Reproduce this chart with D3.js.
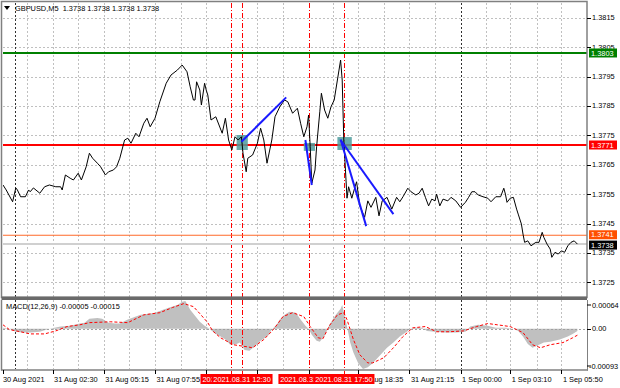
<!DOCTYPE html>
<html><head><meta charset="utf-8">
<script src="https://cdn.jsdelivr.net/npm/d3@7"></script>
<style>
html,body{margin:0;padding:0;background:#fff;}
svg{display:block;font-family:"Liberation Sans",Arial,sans-serif;}
</style></head><body>
<svg id="c" width="620" height="388"></svg>
<script>
// ---------- DATA ----------
const priceBars = [0,2,6,8,9,11,14,16,17,19,23,26,29,33,36,37,39,42,44,47,49,52,54,56,59,61,64,66,69,71,73,76,78,80,83,85,88,90,92,95,98,102,105,109,112,115,117,119,120,121,123,124,126,127,128,130,133,135,137,139,141,143,145,147,149,150,152,153,156,159,161,163,165,168,170,173,176,178,181,184,186,188,190,191,192,193,195,196,198,199,201,203,205,207,209,210,211,212,213,215,216,218,220,221,223,226,228,230,233,235,237,240,243,246,248,250,253,255,258,260,262,264,266,268,270,271,273,275,278,280,283,286,289,291,293,295,297,300,303,305,308,311,313,314,315,317,319,321,322,324,325,326,328,330,333,335,337,338,340,342,343,345,347,349,351,353,355,357,359];
const closes = [1.37581,1.37564,1.37524,1.37571,1.37564,1.37541,1.37541,1.37564,1.37558,1.37571,1.37553,1.37575,1.37581,1.37575,1.37575,1.37564,1.37615,1.37604,1.37598,1.37621,1.37598,1.37643,1.37689,1.37672,1.37655,1.37643,1.37615,1.37626,1.37632,1.37643,1.37672,1.37734,1.37740,1.37723,1.37757,1.37745,1.37791,1.37808,1.37779,1.37808,1.37864,1.37927,1.37955,1.37972,1.37989,1.37966,1.37915,1.37870,1.37870,1.37932,1.37904,1.37853,1.37927,1.37904,1.37887,1.37802,1.37813,1.37785,1.37757,1.37808,1.37734,1.37700,1.37745,1.37734,1.37745,1.37689,1.37626,1.37672,1.37683,1.37723,1.37774,1.37734,1.37655,1.37734,1.37813,1.37847,1.37870,1.37864,1.37825,1.37842,1.37791,1.37745,1.37779,1.37819,1.37711,1.37587,1.37632,1.37711,1.37830,1.37893,1.37836,1.37808,1.37847,1.37870,1.37938,1.37972,1.38006,1.37938,1.37734,1.37536,1.37575,1.37536,1.37575,1.37592,1.37510,1.37471,1.37527,1.37505,1.37539,1.37476,1.37527,1.37539,1.37499,1.37539,1.37524,1.37541,1.37570,1.37558,1.37547,1.37553,1.37570,1.37539,1.37510,1.37533,1.37527,1.37550,1.37510,1.37533,1.37527,1.37539,1.37527,1.37505,1.37522,1.37539,1.37558,1.37558,1.37547,1.37541,1.37536,1.37524,1.37541,1.37541,1.37570,1.37550,1.37522,1.37536,1.37539,1.37499,1.37482,1.37448,1.37414,1.37386,1.37391,1.37374,1.37386,1.37386,1.37420,1.37403,1.37380,1.37363,1.37335,1.37352,1.37346,1.37357,1.37352,1.37374,1.37386,1.37391,1.37380];

const histBars = [0,4,8,12,17,23,29,36,42,48,51,54,59,62,66,70,73,78,83,86,92,95,100,104,109,112,114,117,120,123,126,129,133,136,139,142,146,148,151,154,158,161,163,166,168,171,173,176,179,183,186,189,191,193,196,198,201,204,208,211,212,214,215,217,219,222,225,228,231,236,240,244,248,253,254,258,262,265,270,276,283,289,292,297,303,308,314,319,322,325,328,331,334,338,342,348,353,356,359];
const histValues = [0.00002,0,-0.00007,-0.00009,-0.00009,-0.00007,0,0.00005,0.00007,0.00012,0.00014,0.00023,0.00025,0.00023,0.00014,0.00012,0.00012,0.00021,0.00028,0.00032,0.00035,0.00037,0.00044,0.00049,0.00055,0.00062,0.00064,0.00044,0.0003,0.00016,0.00007,0,-0.00012,-0.00018,-0.00025,-0.00037,-0.00035,-0.00032,-0.00049,-0.00051,-0.00039,-0.00028,-0.00023,-0.00014,-0.00002,0.00009,0.00021,0.00032,0.00039,0.00037,0.00021,0.00007,0,-0.00014,-0.00028,-0.0003,-0.00016,0.00009,0.00032,0.00046,0.00055,0.00023,0.00005,-0.00032,-0.00055,-0.0008,-0.00093,-0.00089,-0.0008,-0.0006,-0.00044,-0.00032,-0.00018,-0.00005,0,0.00002,0.00002,-0.00005,-0.00007,-0.00009,-0.00009,-0.00007,0.00005,0.00009,0.00007,0.00002,0.00002,0,-0.00005,-0.00018,-0.00035,-0.00044,-0.00039,-0.00032,-0.0003,-0.00025,-0.00018,-0.00012,-0.00005];

const signalBars = [0,4,11,17,26,33,40,48,54,67,78,88,98,106,113,119,123,128,131,136,144,153,156,163,169,175,181,188,192,197,200,204,209,213,215,219,223,228,231,238,244,250,256,264,271,279,288,296,303,309,317,321,325,331,336,342,350,356,359];
const signalValues = [0.00009,-0.00002,-0.00007,-0.00012,-0.00012,-0.00005,0.00005,0.00009,0.00014,0.00016,0.00014,0.00032,0.00037,0.00049,0.00058,0.00051,0.00035,0.00014,-0.00005,-0.00021,-0.00037,-0.00042,-0.00044,-0.00025,-0.00002,0.00028,0.00037,0.00028,0.00005,-0.00021,-0.00023,0.00007,0.00032,0.00037,0.00021,-0.00025,-0.0006,-0.00079,-0.00079,-0.00067,-0.00044,-0.00018,0.00002,0.00005,-0.00007,-0.00007,-0.00005,0.00005,0.00012,0.00009,0.00005,-0.00002,-0.00009,-0.00037,-0.00044,-0.00037,-0.00032,-0.00021,-0.00015];

const priceTicks = [1.3815,1.3805,1.3795,1.3785,1.3775,1.3765,1.3755,1.3745,1.3735,1.3725];
const macdTicks = [0.00064, 0, -0.00093];
const macdTickLabels = ["0.00064","0.00","-0.00093"];
const timeTickBars = [0,31,63,95,127,159,191,222,254,286,317,349];
// labels at 127, 159 and 191 are fully covered by the red line labels in the reference
const timeTickLabels = ["30 Aug 2021","31 Aug 02:30","31 Aug 05:15","31 Aug 07:55","","","","31 Aug 18:35","31 Aug 21:15","1 Sep 00:00","1 Sep 03:10","1 Sep 05:50"];
// grid columns at 143 and 191 sit under the red lines and are not drawn
const gridBars = [15,31,47,63,79,95,111,127,159,175,206,222,238,254,270,302,317,334,349];
const daySeparatorBars = [7.5, 286];
const vLineBars = [142.5, 149.4, 191.2, 213.1];
const vLineLabels = ["2021.08.31 11:55","2021.08.31 12:30","2021.08.31 16:00","2021.08.31 17:50"];
const levelValues = [1.3803, 1.37717, 1.3741];
const levelLabels = ["1.3803","1.3771","1.3741"];
const bidValue = 1.3738;
const bidLabel = "1.3738";
const trendStartBars = [149,189,211,211];
const trendStartPrices = [1.37728,1.37734,1.37736,1.37734];
const trendEndBars = [177,193,227,244];
const trendEndPrices = [1.37879,1.37581,1.37441,1.37482];
const markerStartBars = [146,188,209];
const markerEndBars = [153,195,218];
const markerLowPrices = [1.37700,1.37697,1.37700];
const markerHighPrices = [1.37751,1.37724,1.37744];
const titleText = "GBPUSD,M5  1.3738 1.3738 1.3738 1.3738";
const macdTitle = "MACD(12,26,9) -0.00005 -0.00015";

// ---------- STYLE / LAYOUT ----------
const L = 3, R = 587, T = 3, MB = 297, MT = 301, MBot = 369;
const FS = 7.4;
const levelColors = ["#008000","#ff0000","#ff6a2a"];
const levelBoxColors = ["#008000","#ff0000","#ff5000"];
const levelWidths = [2,2,1.2];

const svg = d3.select("#c");
const x = d3.scaleLinear().domain([0,365]).range([L,R]);
const y = d3.scaleLinear().domain([1.3720,1.3820]).range([MB,T]);
const ym = d3.scaleLinear().domain([-0.00093,0.00064]).range([MBot,MT]);
const px = d => Math.round(x(d)) + 0.5;

const defs = svg.append("defs");
defs.append("clipPath").attr("id","cm").append("rect").attr("x",L).attr("y",T).attr("width",R-L).attr("height",MB-T);
defs.append("clipPath").attr("id","cd").append("rect").attr("x",L).attr("y",MT-1).attr("width",R-L).attr("height",MBot-MT+1);

svg.append("rect").attr("width",620).attr("height",388).attr("fill","#fff");

function vgrid(g, y1, y2){
  g.selectAll(".vg").data(gridBars).enter().append("line")
    .attr("x1",px).attr("x2",px).attr("y1",y1).attr("y2",y2)
    .attr("stroke","#c0c0c0").attr("stroke-dasharray","2,2");
  g.selectAll(".ds").data(daySeparatorBars).enter().append("line")
    .attr("x1",px).attr("x2",px).attr("y1",y1).attr("y2",y2)
    .attr("stroke","#303030").attr("stroke-dasharray","2,2");
}
function vlines(g, y1, y2){
  g.selectAll(".vl").data(vLineBars).enter().append("line")
    .attr("x1",px).attr("x2",px).attr("y1",y1).attr("y2",y2)
    .attr("stroke","#ff0000").attr("stroke-width",1).attr("stroke-dasharray","5,2,1,2");
}

const gm = svg.append("g").attr("clip-path","url(#cm)");
gm.selectAll(".hg").data(priceTicks).enter().append("line")
  .attr("x1",L).attr("x2",R).attr("y1",d=>Math.round(y(d))+0.5).attr("y2",d=>Math.round(y(d))+0.5)
  .attr("stroke","#c0c0c0").attr("stroke-dasharray","2,2").attr("stroke-width",1);
vgrid(gm, T, MB);
vlines(gm, T, MB);

gm.append("line").attr("x1",L).attr("x2",R).attr("y1",y(bidValue)).attr("y2",y(bidValue))
  .attr("stroke","#d0d0d0").attr("stroke-width",2);
gm.selectAll(".lv").data(levelValues).enter().append("line")
  .attr("x1",L).attr("x2",R).attr("y1",d=>y(d)).attr("y2",d=>y(d))
  .attr("stroke",(d,i)=>levelColors[i]).attr("stroke-width",(d,i)=>levelWidths[i]);

gm.selectAll(".mk").data(markerStartBars).enter().append("rect")
  .attr("x",(d,i)=>x(d)).attr("width",(d,i)=>x(markerEndBars[i])-x(d))
  .attr("y",(d,i)=>y(markerHighPrices[i])).attr("height",(d,i)=>y(markerLowPrices[i])-y(markerHighPrices[i]))
  .attr("fill","#4f9c9c").attr("opacity",0.85);

gm.append("path").datum(priceBars.map((b,i)=>[b,closes[i]]))
  .attr("d", d3.line().x(d=>x(d[0])).y(d=>y(d[1])))
  .attr("fill","none").attr("stroke","#000").attr("stroke-width",1);

gm.selectAll(".tl").data(trendStartBars).enter().append("line")
  .attr("x1",d=>x(d)).attr("y1",(d,i)=>y(trendStartPrices[i]))
  .attr("x2",(d,i)=>x(trendEndBars[i])).attr("y2",(d,i)=>y(trendEndPrices[i]))
  .attr("stroke","#1a1aff").attr("stroke-width",2);

const gd = svg.append("g").attr("clip-path","url(#cd)");
vgrid(gd, MT-1, MBot);
gd.append("path").datum(histBars.map((b,i)=>[b,histValues[i]]))
  .attr("d", d3.area().x(d=>x(d[0])).y0(ym(0)).y1(d=>ym(d[1])))
  .attr("fill","#c0c0c0");
gd.append("line").attr("x1",L).attr("x2",R).attr("y1",Math.round(ym(0))+0.5).attr("y2",Math.round(ym(0))+0.5)
  .attr("stroke","#a0a0a0").attr("stroke-dasharray","2,2");
vlines(gd, MT-1, MBot);
gd.append("path").datum(signalBars.map((b,i)=>[b,signalValues[i]]))
  .attr("d", d3.line().x(d=>x(d[0])).y(d=>ym(d[1])))
  .attr("fill","none").attr("stroke","#ff0000").attr("stroke-width",1).attr("stroke-dasharray","3,2");

svg.append("rect").attr("x",1.5).attr("y",1.5).attr("width",R-1.5).attr("height",MB-1).attr("fill","none").attr("stroke","#808080").attr("stroke-width",1.5);
svg.append("rect").attr("x",1.5).attr("y",296.5).attr("width",R-1.5).attr("height",3.5).attr("fill","#6a6a6a");
svg.append("line").attr("x1",1.5).attr("x2",1.5).attr("y1",300).attr("y2",370.5).attr("stroke","#808080").attr("stroke-width",1.5);
svg.append("line").attr("x1",R+0.5).attr("x2",R+0.5).attr("y1",300).attr("y2",370.5).attr("stroke","#808080").attr("stroke-width",1);
svg.append("line").attr("x1",1).attr("x2",R+1).attr("y1",370).attr("y2",370).attr("stroke","#808080").attr("stroke-width",1.5);
svg.selectAll(".vls").data(vLineBars).enter().append("line")
  .attr("x1",px).attr("x2",px).attr("y1",370.8).attr("y2",374).attr("stroke","#ff0000");

svg.append("path").attr("d","M4,6 L10,6 L7,10 Z").attr("fill","#000");
svg.append("text").attr("x",15).attr("y",11).attr("font-size",FS).attr("fill","#000").attr("xml:space","preserve").text(titleText);
svg.append("text").attr("x",6).attr("y",308.5).attr("font-size",FS).attr("fill","#000").text(macdTitle);

const pa = svg.append("g");
pa.selectAll(".pt").data(priceTicks).enter().append("line")
  .attr("x1",R).attr("x2",R+4).attr("y1",d=>Math.round(y(d))+0.5).attr("y2",d=>Math.round(y(d))+0.5).attr("stroke","#000");
pa.selectAll(".pl").data(priceTicks).enter().append("text")
  .attr("x",592).attr("y",d=>y(d)).attr("dy","0.35em").attr("font-size",FS).attr("fill","#000")
  .text(d=>d3.format(".4f")(d));

pa.selectAll(".mt").data(macdTicks).enter().append("line")
  .attr("x1",R).attr("x2",R+4).attr("y1",(d,i)=>i===0?305:(i===2?366:Math.round(ym(d))+0.5)).attr("y2",(d,i)=>i===0?305:(i===2?366:Math.round(ym(d))+0.5)).attr("stroke","#000");
pa.selectAll(".ml").data(macdTicks).enter().append("text")
  .attr("x",(d,i)=>i===2?589:592).attr("y",(d,i)=>i===0?305:(i===2?366:ym(d))).attr("dy","0.35em").attr("font-size",FS).attr("fill","#000")
  .text((d,i)=>macdTickLabels[i]);

const boxes = levelValues.map((v,i)=>({v, label:levelLabels[i], color:levelBoxColors[i]}));
boxes.push({v:bidValue,label:bidLabel,color:"#000"});
const bg = svg.append("g");
boxes.forEach((b,i)=>{
  let cy = y(b.v);
  if (i===2) cy -= 0.5;
  if (i===3) cy += 1;
  bg.append("rect").attr("x",589).attr("y",cy-4.5).attr("width",28).attr("height",9).attr("fill",b.color);
  bg.append("text").attr("x",591).attr("y",cy).attr("dy","0.35em").attr("font-size",FS).attr("fill","#fff").text(b.label);
});

const ta = svg.append("g");
ta.selectAll(".tt").data(timeTickBars).enter().append("line")
  .attr("x1",px).attr("x2",px).attr("y1",370).attr("y2",374).attr("stroke","#000");
ta.selectAll(".tl").data(timeTickBars).enter().append("text")
  .attr("x",(d,i)=>x(d)+(i===0?0:1.5)).attr("y",382).attr("font-size",FS).attr("fill","#000")
  .text((d,i)=>timeTickLabels[i]);

vLineBars.forEach((b,i)=>{
  const cx = x(b);
  ta.append("rect").attr("x",cx-30.5).attr("y",374).attr("width",61).attr("height",10).attr("fill","#ff0000");
  ta.append("text").attr("x",cx).attr("y",382).attr("text-anchor","middle").attr("font-size",FS).attr("fill","#fff").text(vLineLabels[i]);
});
</script>
</body></html>
